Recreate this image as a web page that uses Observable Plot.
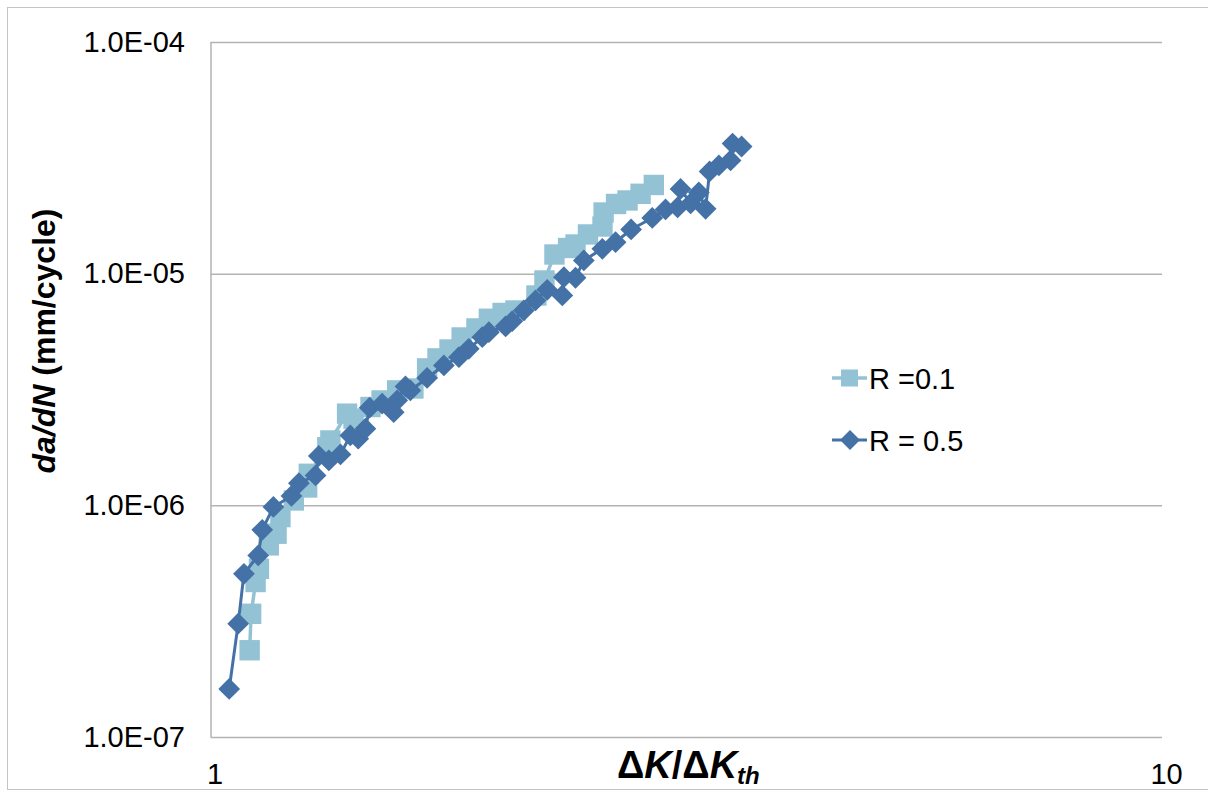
<!DOCTYPE html>
<html><head><meta charset="utf-8">
<script src="https://cdn.jsdelivr.net/npm/d3@7"></script>
<script src="https://cdn.jsdelivr.net/npm/@observablehq/plot@0.6"></script>
<style>
body{margin:0;background:#fff;}
#wrap{position:relative;width:1208px;height:792px;overflow:hidden;font-family:"Liberation Sans",Arial,sans-serif;}
#frame{position:absolute;left:7px;top:7px;width:1230px;height:783px;border:1.5px solid #c4c4c4;box-sizing:border-box;}
#chart{position:absolute;left:0;top:0;}
#ov{position:absolute;left:0;top:0;}
</style></head><body>
<div id="wrap"><div id="frame"></div><div id="chart"></div>
<svg id="ov" width="1208" height="792" font-family="Liberation Sans, Arial, sans-serif"></svg>
</div>
<script>
const seriesNames = ["R =0.1", "R = 0.5"];
const seriesColors = ["#92c2d4", "#4471a6"];

// R = 0.1 : ΔK/ΔKth and da/dN (mm/cycle)
const r01_dK = [1.098,1.102,1.114,1.123,1.150,1.172,1.183,1.222,1.262,1.267,1.325,1.335,1.390,1.412,1.471,1.511,1.569,1.632,1.687,1.730,1.781,1.834,1.901,1.959,2.025,2.089,2.198,2.241,2.296,2.373,2.416,2.490,2.579,2.586,2.665,2.740,2.828,2.920];
const r01_dadN = [2.38e-7,3.42e-7,4.69e-7,5.35e-7,6.75e-7,7.58e-7,8.94e-7,1.055e-6,1.20e-6,1.375e-6,1.79e-6,1.915e-6,2.50e-6,2.38e-6,2.67e-6,2.85e-6,3.15e-6,3.21e-6,3.92e-6,4.33e-6,4.73e-6,5.33e-6,5.83e-6,6.42e-6,6.80e-6,6.97e-6,8.09e-6,9.39e-6,1.216e-5,1.297e-5,1.343e-5,1.484e-5,1.606e-5,1.846e-5,2.009e-5,2.08e-5,2.223e-5,2.427e-5];

// R = 0.5
const r05_dK = [1.045,1.068,1.083,1.121,1.132,1.163,1.215,1.237,1.288,1.298,1.330,1.368,1.401,1.428,1.453,1.468,1.513,1.556,1.569,1.601,1.620,1.687,1.757,1.822,1.866,1.928,1.959,2.040,2.073,2.132,2.193,2.256,2.340,2.349,2.416,2.465,2.578,2.662,2.764,2.909,3.004,3.093,3.115,3.192,3.256,3.310,3.342,3.418,3.516,3.533,3.611];
const r05_dadN = [1.62e-7,3.10e-7,5.09e-7,6.11e-7,7.88e-7,9.89e-7,1.103e-6,1.253e-6,1.352e-6,1.642e-6,1.570e-6,1.667e-6,2.013e-6,1.949e-6,2.152e-6,2.651e-6,2.759e-6,2.538e-6,2.850e-6,3.275e-6,3.148e-6,3.565e-6,4.036e-6,4.383e-6,4.764e-6,5.346e-6,5.619e-6,5.946e-6,6.268e-6,6.970e-6,7.700e-6,8.564e-6,8.09e-6,9.70e-6,9.65e-6,1.146e-5,1.287e-5,1.374e-5,1.559e-5,1.748e-5,1.902e-5,1.940e-5,2.332e-5,2.019e-5,2.253e-5,1.915e-5,2.775e-5,2.945e-5,3.095e-5,3.664e-5,3.557e-5];

const xTicks = [1, 10];
const xTickLabels = ["1", "10"];
const yTicks = [1e-7, 1e-6, 1e-5, 1e-4];
const yTickLabels = ["1.0E-07", "1.0E-06", "1.0E-05", "1.0E-04"];

const d01 = r01_dK.map((x, i) => ({x, y: r01_dadN[i]}));
const d05 = r05_dK.map((x, i) => ({x, y: r05_dadN[i]}));
const xLab = new Map(xTicks.map((t, i) => [t, xTickLabels[i]]));
const yLab = new Map(yTicks.map((t, i) => [t, yTickLabels[i]]));
const gridColor = "#b3b3b3";

const chart = Plot.plot({
  width: 1208, height: 792,
  marginLeft: 210.5, marginRight: 46, marginTop: 42, marginBottom: 55,
  style: {fontFamily: "Liberation Sans, Arial, sans-serif", fontSize: "29px", color: "#000", background: "transparent", overflow: "visible"},
  x: {type: "log", domain: [1, 10]},
  y: {type: "log", domain: [1e-7, 1e-4]},
  marks: [
    Plot.ruleY(yTicks, {stroke: gridColor, strokeWidth: 1.5}),
    Plot.ruleX([xTicks[0]], {stroke: gridColor, strokeWidth: 1.5}),
    Plot.axisX(xTicks, {tickSize: 0, tickPadding: 26, tickFormat: d => xLab.get(d), label: null, fontSize: 29, dx: 4}),
    Plot.axisY(yTicks, {tickSize: 0, tickPadding: 26, tickFormat: d => yLab.get(d), label: null, fontSize: 29}),
    Plot.line(d01, {x: "x", y: "y", stroke: seriesColors[0], strokeWidth: 3.5}),
    Plot.dot(d01, {x: "x", y: "y", symbol: "square", r: 11.5, fill: seriesColors[0]}),
    Plot.line(d05, {x: "x", y: "y", stroke: seriesColors[1], strokeWidth: 3}),
    Plot.dot(d05, {x: "x", y: "y", symbol: "diamond2", r: 9.8, fill: seriesColors[1]})
  ]
});
document.getElementById("chart").appendChild(chart);

// titles and legend
const ov = d3.select("#ov");
const yt = ov.append("text").attr("transform", "translate(54.5,341) rotate(-90)")
  .attr("text-anchor", "middle").attr("font-size", 32).attr("font-weight", "bold").attr("fill", "#000");
yt.append("tspan").attr("font-style", "italic").text("da/dN");
yt.append("tspan").text(" (mm/cycle)");

const xt = ov.append("text").attr("x", 617).attr("y", 778)
  .attr("font-size", 38).attr("font-weight", "bold").attr("fill", "#000");
xt.append("tspan").text("Δ");
xt.append("tspan").attr("font-style", "italic").text("K");
xt.append("tspan").text("/Δ");
xt.append("tspan").attr("font-style", "italic").text("K");
xt.append("tspan").attr("font-style", "italic").attr("font-size", 24).attr("dy", 6).text("th");

const legY = [378, 440];
legY.forEach((y, i) => {
  ov.append("line").attr("x1", 832).attr("x2", 867).attr("y1", y).attr("y2", y)
    .attr("stroke", seriesColors[i]).attr("stroke-width", i === 0 ? 3.5 : 3);
  if (i === 0) {
    ov.append("rect").attr("x", 841).attr("y", y - 8.5).attr("width", 17).attr("height", 17).attr("fill", seriesColors[i]);
  } else {
    ov.append("path").attr("d", `M850,${y - 10}L860,${y}L850,${y + 10}L840,${y}Z`).attr("fill", seriesColors[i]);
  }
  ov.append("text").attr("x", 869).attr("y", y + 10.5).attr("font-size", 29).attr("fill", "#000").text(seriesNames[i]);
});
</script>
</body></html>
